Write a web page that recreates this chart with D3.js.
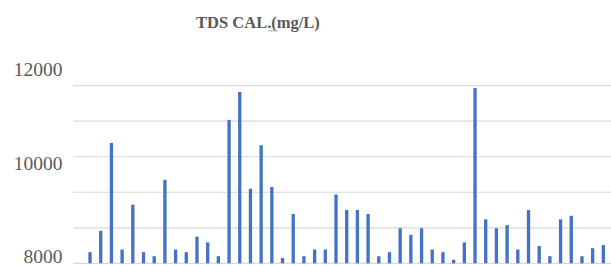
<!DOCTYPE html>
<html>
<head>
<meta charset="utf-8">
<script src="https://cdn.jsdelivr.net/npm/d3@7"></script>
<style>
  html, body { margin: 0; padding: 0; background: #fff; }
  svg { display: block; }
</style>
</head>
<body>
<svg id="chart"></svg>
<script>
// sample values, TDS calculated (mg/L); first sample sits below the axis minimum
var samples = d3.range(1, 51);
var tdsValues = [
  7950, 8250, 8730, 10710, 8310, 9320, 8250, 8160, 9880, 8310,
  8250, 8600, 8470, 8160, 11230, 11860, 9680, 10660, 9720, 8120,
  9110, 8160, 8310, 8310, 9550, 9200, 9200, 9110, 8160, 8250,
  8790, 8640, 8790, 8310, 8250, 8080, 8470, 11950, 8990, 8790,
  8860, 8310, 9200, 8390, 8160, 8990, 9070, 8160, 8340, 8410
];
var gridValues = [8000, 8800, 9600, 10400, 11200, 12000];
var yTickLabels = [8000, 10000, 12000];
var chartTitle = 'TDS CAL.(mg/L)';

var unit = {width: 611, height: 266};
var plot = {left: 74, right: 608.7, top: 85.7, bottom: 263.3};

var svg = d3.select('#chart')
  .attr('width', unit.width)
  .attr('height', unit.height);

var x = d3.scaleBand()
  .domain(samples)
  .range([plot.left, plot.right])
  .paddingInner(0.69)
  .paddingOuter(0.345);

var y = d3.scaleLinear()
  .domain([8000, 12000])
  .range([plot.bottom, plot.top])
  .clamp(true);

// axis labels sit on their own (offset) scale in the picture
var yLabel = d3.scaleLinear()
  .domain([8000, 12000])
  .range([256.7, 69.3]);

// gridlines
svg.append('g')
  .selectAll('line')
  .data(gridValues)
  .enter()
  .append('line')
  .attr('x1', 73.3)
  .attr('x2', unit.width)
  .attr('y1', (d) => y(d))
  .attr('y2', (d) => y(d))
  .attr('stroke', '#d9d9d9')
  .attr('stroke-width', 1.2);

// bars
svg.append('g')
  .selectAll('rect')
  .data(tdsValues)
  .enter()
  .append('rect')
  .attr('x', (d, i) => x(samples[i]))
  .attr('width', x.bandwidth())
  .attr('y', (d) => y(d))
  .attr('height', (d) => plot.bottom - y(d))
  .attr('fill', '#4472c4');

// y labels
svg.append('g')
  .selectAll('text')
  .data(yTickLabels)
  .enter()
  .append('text')
  .attr('x', 62.5)
  .attr('y', (d) => yLabel(d))
  .attr('dy', '0.34em')
  .attr('text-anchor', 'end')
  .style('font-family', '"Liberation Serif", "DejaVu Serif", serif')
  .style('font-size', '19.5px')
  .attr('fill', '#595959')
  .text((d) => d);

// title
svg.append('text')
  .attr('x', 258)
  .attr('y', 22.7)
  .attr('dy', '0.34em')
  .attr('text-anchor', 'middle')
  .style('font-family', '"Liberation Serif", "DejaVu Serif", serif')
  .style('font-size', '16.5px')
  .style('font-weight', 'bold')
  .attr('fill', '#595959')
  .text(chartTitle);

// little spell-check squiggle under the "."
svg.append('path')
  .attr('d', d3.line()([[268, 31.5], [269.5, 30], [271, 31.5], [272.5, 30], [274, 31.5], [275.5, 30], [277, 31.5]]))
  .attr('fill', 'none')
  .attr('stroke', '#5fb35f')
  .attr('stroke-width', 0.8);
</script>
</body>
</html>
